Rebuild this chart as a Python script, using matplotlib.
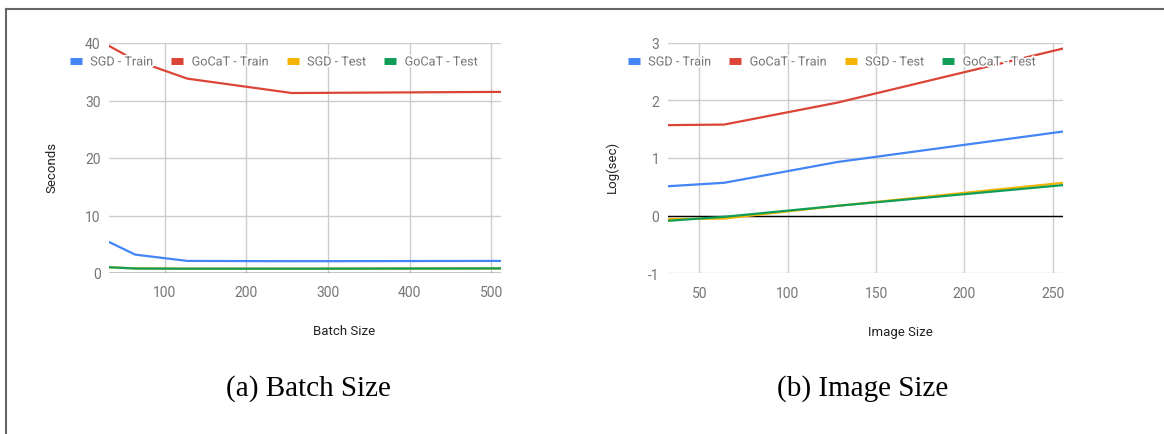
import matplotlib
matplotlib.use("Agg")
import matplotlib.pyplot as plt
import matplotlib.patheffects as pe
from matplotlib.lines import Line2D

plt.rcParams['font.family'] = ['Roboto', 'DejaVu Sans']
plt.rcParams['axes.unicode_minus'] = False

# Data
batch_sizes = [32, 64, 128, 256, 512]
batch_sgd_train = [5.4, 3.2, 2.1, 2.05, 2.1]
batch_gocat_train = [39.5, 37.0, 33.8, 31.3, 31.5]
batch_sgd_test = [1.0, 0.8, 0.75, 0.75, 0.8]
batch_gocat_test = [1.0, 0.78, 0.75, 0.75, 0.8]

image_sizes = [32, 64, 128, 256]
image_sgd_train = [0.51, 0.57, 0.93, 1.46]
image_gocat_train = [1.57, 1.58, 1.96, 2.90]
image_sgd_test = [-0.06, -0.05, 0.17, 0.57]
image_gocat_test = [-0.09, -0.02, 0.17, 0.53]

series_names = ['SGD - Train', 'GoCaT - Train', 'SGD - Test', 'GoCaT - Test']
colors = ['#4285F4', '#DB4437', '#F4B400', '#0F9D58']

tick_color = '#757575'
title_color = '#222222'
grid_color = '#cccccc'

fig = plt.figure(figsize=(11.64, 4.35), dpi=100)

# outer frame (left and top edges only)
fig.add_artist(Line2D([6 / 1164, 6 / 1164], [0, 1 - 9.5 / 435], transform=fig.transFigure,
                      color='#666666', linewidth=1.5))
fig.add_artist(Line2D([6 / 1164, 1], [1 - 9.5 / 435, 1 - 9.5 / 435], transform=fig.transFigure,
                      color='#666666', linewidth=1.5))


def draw_panel(rect, x, ys, xlim, ylim, xticks, yticks, xlabel, ylabel,
               xlabel_pos, ylabel_pos, legend_x, caption, caption_x):
    ax = fig.add_axes(rect)
    for y, c, name in zip(ys, colors, series_names):
        ax.plot(x, y, color=c, linewidth=1.6, label=name, zorder=3,
                solid_joinstyle='round')
    ax.axhline(0, color='black', linewidth=1.0, zorder=2)
    ax.set_xlim(xlim)
    ax.set_ylim(ylim)
    ax.set_xticks(xticks)
    ax.set_yticks(yticks)
    ax.grid(True, color=grid_color, linewidth=1.0, zorder=0)
    for s in ax.spines.values():
        s.set_visible(False)
    ax.tick_params(length=0, labelsize=10, labelcolor=tick_color)
    ax.tick_params(axis='y', pad=6)
    ax.tick_params(axis='x', pad=9)
    ax.set_xlabel(xlabel, fontsize=9.5, color=title_color)
    ax.set_ylabel(ylabel, fontsize=9.5, color=title_color)
    ax.xaxis.set_label_coords(*xlabel_pos)
    ax.yaxis.set_label_coords(*ylabel_pos)

    handles = [Line2D([], [], color=c, linewidth=5, solid_capstyle='butt') for c in colors]
    leg = ax.legend(handles, series_names, loc='center left',
                    bbox_to_anchor=(legend_x, 1 - 63 / 435), bbox_transform=fig.transFigure,
                    ncol=4, frameon=False, fontsize=9.1, handlelength=0.95,
                    handletextpad=0.65, columnspacing=1.45, borderpad=0, borderaxespad=0)
    leg.set_zorder(5)
    for t in leg.get_texts():
        t.set_color(tick_color)
        t.set_path_effects([pe.withStroke(linewidth=2.5, foreground='white')])

    fig.text(caption_x, 1 - 389 / 435, caption, ha='center', va='center',
             fontsize=21, family='Liberation Serif')
    return ax


draw_panel([109 / 1164, 1 - 274 / 435, 392 / 1164, 230 / 435],
           batch_sizes, [batch_sgd_train, batch_gocat_train, batch_sgd_test, batch_gocat_test],
           (32, 512), (0, 40), [100, 200, 300, 400, 500], [0, 10, 20, 30, 40],
           'Batch Size', 'Seconds', (0.6, -0.223), (-0.128, 0.465),
           70 / 1164, '(a) Batch Size', 308 / 1164)

draw_panel([667.7 / 1164, 1 - 274.3 / 435, 395.6 / 1164, 230.6 / 435],
           image_sizes, [image_sgd_train, image_gocat_train, image_sgd_test, image_gocat_test],
           (32, 256), (-1, 3), [50, 100, 150, 200, 250], [-1, 0, 1, 2, 3],
           'Image Size', 'Log(sec)', (0.587, -0.223), (-0.123, 0.465),
           628 / 1164, '(b) Image Size', 863 / 1164)

fig.savefig('out.png', dpi=100)
